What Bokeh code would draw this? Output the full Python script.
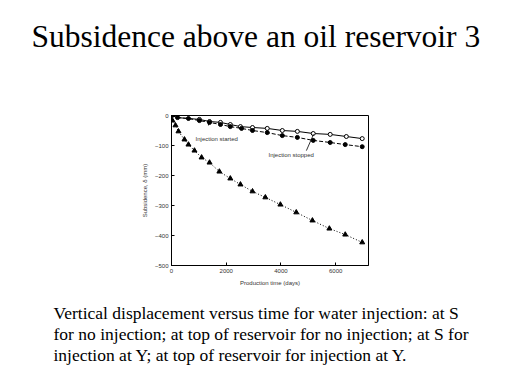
from bokeh.plotting import figure
from bokeh.models import Label, Range1d, FixedTicker, Title
from bokeh.embed import file_html
from bokeh.resources import INLINE

# ---- data (days, displacement) ----
t_filled = [0, 220, 620, 1020, 1390, 1790, 2150, 2560, 2960, 3500, 4050, 4600, 5180, 5800, 6350, 6970]
d_filled = [0, -7, -10, -17, -23, -30, -37, -43, -50, -57, -67, -73, -83, -90, -97, -104]

t_open = [1020, 1390, 1790, 2150, 2520, 2960, 3500, 4050, 4600, 5180, 5800, 6390, 6970]
d_open = [-13, -20, -23, -30, -37, -40, -43, -50, -53, -60, -63, -70, -77]
t_open_line = [0, 220, 620] + t_open
d_open_line = [0, -7, -10] + d_open

t_tri = [0, 36, 146, 255, 474, 620, 840, 1100, 1390, 1750, 2150, 2520, 2960, 3430, 3980, 4560, 5150, 5770, 6350, 6970]
d_tri = [0, -17, -33, -53, -80, -97, -117, -140, -157, -187, -210, -230, -253, -273, -297, -323, -350, -377, -397, -423]

x_ticks = [0, 2000, 4000, 6000]
y_ticks = [0, -100, -200, -300, -400, -500]

title_text = "Subsidence above an oil reservoir 3"
caption_lines = [
    "Vertical displacement versus time for water injection: at S",
    "for no injection; at top of reservoir for no injection; at S for",
    "injection at Y; at top of reservoir for injection at Y.",
]

W, H = 503, 373
FL, FR, FT, FB = 171, 368, 115, 265
p = figure(width=W, height=H, output_backend="svg", toolbar_location=None,
           x_range=Range1d(0, 7200), y_range=Range1d(-500, 0),
           min_border_left=FL, min_border_right=W - FR,
           min_border_top=FT, min_border_bottom=H - FB)
p.title = None
p.background_fill_color = "white"
p.border_fill_color = "white"
p.outline_line_color = "black"
p.outline_line_width = 1
p.grid.visible = False

for ax in (p.xaxis[0], p.yaxis[0]):
    ax.major_tick_in = 3
    ax.major_tick_out = 0
    ax.minor_tick_in = 0
    ax.minor_tick_out = 0
    ax.axis_line_color = "black"
    ax.major_label_text_font = "Liberation Sans"
    ax.major_label_text_font_size = "6px"
    ax.major_label_text_color = "#333333"
    ax.axis_label_text_font = "Liberation Sans"
    ax.axis_label_text_font_size = "6px"
    ax.axis_label_text_font_style = "normal"
    ax.axis_label_text_color = "#333333"
    ax.major_label_standoff = 3
    ax.axis_label_standoff = 4

p.xaxis.ticker = FixedTicker(ticks=x_ticks)
p.yaxis.ticker = FixedTicker(ticks=y_ticks)
p.xaxis.axis_label = "Production time (days)"
p.yaxis.axis_label = "Subsidence, \u03b4 (mm)"

p.line(t_open_line, d_open_line, line_color="black", line_width=1)
p.scatter(t_open, d_open, marker="circle", size=4, fill_color="white", line_color="black")

p.line(t_filled, d_filled, line_color="black", line_width=1, line_dash="4 2")
p.scatter(t_filled, d_filled, marker="circle", size=4, fill_color="black", line_color="black")

p.line(t_tri, d_tri, line_color="black", line_width=1, line_dash="1 2")
p.scatter(t_tri, d_tri, marker="triangle", size=5, fill_color="black", line_color="black")

p.segment(x0=[1350], y0=[-17], x1=[1350], y1=[-33], line_color="black", line_width=1)
p.segment(x0=[4930], y0=[-117], x1=[5190], y1=[-63], line_color="black", line_width=0.8)
p.add_layout(Label(x=880, y=-77, text="Injection started", text_font="Liberation Sans",
                   text_font_size="6px", text_baseline="middle", text_color="#333333"))
p.add_layout(Label(x=3545, y=-130, text="Injection stopped", text_font="Liberation Sans",
                   text_font_size="6px", text_baseline="middle", text_color="#333333"))

# spacer between frame and title, then the title
p.add_layout(Title(text=" ", text_font_size="1px", standoff=59), "above")
p.add_layout(Title(text=title_text, align="left", text_font="Liberation Serif",
                   text_font_size="31.5px", text_font_style="normal", text_color="black",
                   standoff=0, offset=31 - FL), "above")

# spacer below the x axis, then the caption
p.add_layout(Title(text=" ", text_font_size="1px", standoff=9), "below")
p.add_layout(Title(text="\n".join(caption_lines), align="left", text_font="Liberation Serif",
                   text_font_size="17.5px", text_font_style="normal", text_color="black",
                   text_line_height=1.07, standoff=0, offset=53 - FL), "below")

open("out.html", "w").write(file_html(p, INLINE))
